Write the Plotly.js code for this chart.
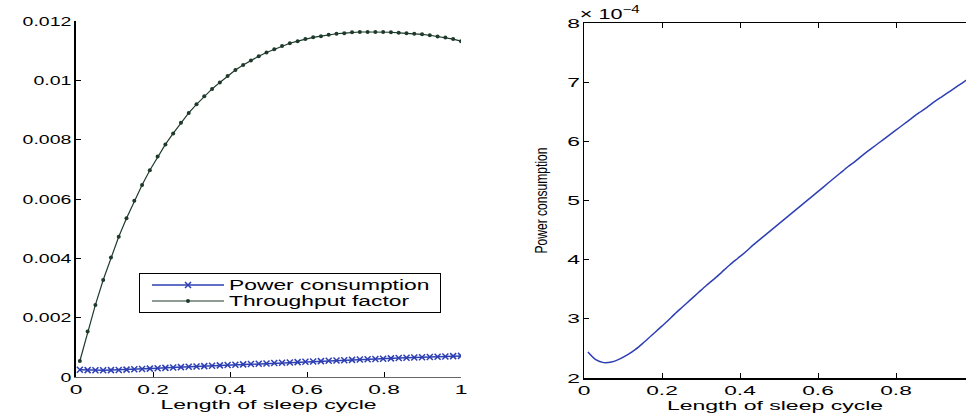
<!DOCTYPE html>
<html>
<head>
<meta charset="utf-8">
<script src="https://cdn.plot.ly/plotly-3.0.1.min.js"></script>
<style>
  html, body { margin: 0; padding: 0; background: #ffffff; }
  #chart { width: 966px; height: 413px; }
</style>
</head>
<body>
<div id="chart"></div>
<script>
// Length of sleep cycle (x samples)
const sleepCycle = [0.0100, 0.0302, 0.0504, 0.0706, 0.0908, 0.1110, 0.1312, 0.1514, 0.1716, 0.1918,
  0.2120, 0.2322, 0.2524, 0.2726, 0.2928, 0.3130, 0.3332, 0.3534, 0.3736, 0.3938,
  0.4140, 0.4342, 0.4544, 0.4746, 0.4948, 0.5150, 0.5352, 0.5554, 0.5756, 0.5958,
  0.6160, 0.6362, 0.6564, 0.6766, 0.6968, 0.7170, 0.7372, 0.7574, 0.7776, 0.7978,
  0.8180, 0.8382, 0.8584, 0.8786, 0.8988, 0.9190, 0.9392, 0.9594, 0.9796, 1.0000];

// Throughput factor
const throughput = [0.00054, 0.00153, 0.00243, 0.00327, 0.00403, 0.00473, 0.00535, 0.00594, 0.00647, 0.00697,
  0.00743, 0.00784, 0.00821, 0.00857, 0.00890, 0.00919, 0.00946, 0.00971, 0.00993, 0.01015,
  0.01035, 0.01052, 0.01067, 0.01081, 0.01094, 0.01105, 0.01116, 0.01125, 0.01132, 0.01139,
  0.01145, 0.01149, 0.01154, 0.01157, 0.01159, 0.01162, 0.01163, 0.01163, 0.01163, 0.01163,
  0.01162, 0.01160, 0.01159, 0.01157, 0.01155, 0.01152, 0.01148, 0.01144, 0.01139, 0.01132];

// Power consumption, in units of 1e-4
const powerE4 = [2.44, 2.31, 2.26, 2.27, 2.32, 2.39, 2.48, 2.59, 2.71, 2.83,
  2.95, 3.08, 3.20, 3.32, 3.44, 3.56, 3.67, 3.79, 3.91, 4.02,
  4.13, 4.25, 4.36, 4.47, 4.58, 4.69, 4.80, 4.91, 5.02, 5.13,
  5.24, 5.35, 5.46, 5.57, 5.67, 5.78, 5.88, 5.98, 6.08, 6.18,
  6.28, 6.38, 6.48, 6.57, 6.67, 6.76, 6.85, 6.94, 7.03, 7.12];

const leftYTicks = [0, 0.002, 0.004, 0.006, 0.008, 0.01, 0.012];
const leftYTickText = ['0', '0.002', '0.004', '0.006', '0.008', '0.01', '0.012'];
const xTicks = [0, 0.2, 0.4, 0.6, 0.8, 1];
const xTickText = ['0', '0.2', '0.4', '0.6', '0.8', '1'];
const rightYTicks = [2, 3, 4, 5, 6, 7, 8];

const powerAbs = powerE4.map(v => v * 1e-4);

const BLUE = '#2e3fb3';
const GREEN = '#1e3a2b';
const FONT = 'Liberation Sans, Arial, sans-serif';

const traces = [
  {
    x: sleepCycle, y: powerAbs, name: 'Power consumption',
    type: 'scatter', mode: 'lines+markers', xaxis: 'x', yaxis: 'y',
    line: {color: BLUE, width: 1.5},
    marker: {symbol: 'x-thin', size: 6, color: BLUE, line: {color: BLUE, width: 1.5}}
  },
  {
    x: sleepCycle, y: throughput, name: 'Throughput factor',
    type: 'scatter', mode: 'lines+markers', xaxis: 'x', yaxis: 'y',
    line: {color: GREEN, width: 1.2},
    marker: {symbol: 'circle', size: 4, color: GREEN}
  },
  {
    x: sleepCycle, y: powerE4, name: 'Power consumption',
    type: 'scatter', mode: 'lines', xaxis: 'x2', yaxis: 'y2',
    showlegend: false,
    line: {color: BLUE, width: 1.5, shape: 'spline', smoothing: 0.8}
  }
];

const axisCommon = {
  showgrid: false, zeroline: false, ticks: 'inside', ticklen: 5, tickwidth: 1,
  tickcolor: '#000', showline: true, linecolor: '#000',
  tickfont: {family: FONT, size: 13, color: '#000'}
};

const layout = {
  width: 966, height: 413,
  margin: {l: 0, r: 0, t: 0, b: 0},
  paper_bgcolor: '#ffffff', plot_bgcolor: '#ffffff',
  font: {family: FONT, color: '#000'},
  showlegend: true,
  legend: {
    x: 139 / 966, y: 1 - 273 / 413, xanchor: 'left', yanchor: 'top',
    bgcolor: '#ffffff', bordercolor: '#000', borderwidth: 1,
    font: {family: FONT, size: 14, color: '#000'},
    itemwidth: 72, tracegroupgap: 0
  },
  xaxis: Object.assign({}, axisCommon, {
    domain: [76 / 966, 461 / 966], range: [0, 1],
    tickvals: xTicks, ticktext: xTickText, linecolor: '#666', linewidth: 1,
    anchor: 'y',
    title: {text: 'Length of sleep cycle', font: {family: FONT, size: 13, color: '#000'}, standoff: 2}
  }),
  yaxis: Object.assign({}, axisCommon, {
    domain: [(413 - 377) / 413, (413 - 21) / 413], range: [0, 0.012],
    tickvals: leftYTicks, ticktext: leftYTickText, linewidth: 2,
    anchor: 'x'
  }),
  xaxis2: Object.assign({}, axisCommon, {
    domain: [584 / 966, 1], range: [0, 0.9795],
    tickvals: xTicks, ticktext: xTickText, linewidth: 1.5,
    mirror: 'ticks', anchor: 'y2',
    title: {text: 'Length of sleep cycle', font: {family: FONT, size: 13, color: '#000'}, standoff: 2}
  }),
  yaxis2: Object.assign({}, axisCommon, {
    domain: [(413 - 378) / 413, (413 - 23) / 413], range: [2, 8],
    tickvals: rightYTicks, linewidth: 1.5, anchor: 'x2',
    title: {text: 'Power consumption', font: {family: FONT, size: 17, color: '#000'}, standoff: 20}
  }),
  annotations: [
    {
      xref: 'paper', yref: 'paper', x: 587 / 966, y: 1 - 24 / 413,
      xanchor: 'left', yanchor: 'bottom', showarrow: false,
      text: '× 10<sup>−4</sup>', font: {family: FONT, size: 15, color: '#000'}
    }
  ]
};

function stretch(selector, factor, fixedLen) {
  document.querySelectorAll(selector).forEach(t => {
    const len = t.getComputedTextLength();
    if (!len) return;
    const target = fixedLen ? fixedLen : len * factor;
    t.setAttribute('textLength', target.toFixed(1));
    t.setAttribute('lengthAdjust', 'spacingAndGlyphs');
  });
}

function fixLegend() {
  const leg = document.querySelector('.legend');
  if (!leg) return;
  const W = 301, H = 39, ROW0 = 12, ROWSTEP = 16, SHIFT = 8;
  const bg = leg.querySelector('rect.bg');
  if (bg) {
    bg.setAttribute('width', W);
    bg.setAttribute('height', H);
  }
  const items = leg.querySelectorAll('.traces');
  items.forEach((g, k) => {
    g.setAttribute('transform', 'translate(' + SHIFT + ',' + (ROW0 + ROWSTEP * k) + ')');
  });
  const sb = leg.querySelector('.scrollbox');
  if (sb) {
    const cp = sb.getAttribute('clip-path');
    if (cp) {
      const m = cp.match(/#([^)'"]+)/);
      if (m) {
        const clip = document.getElementById(m[1]);
        const r = clip && clip.querySelector('rect');
        if (r) { r.setAttribute('width', W + 20); r.setAttribute('height', H + 10); }
      }
    }
  }
}

Plotly.newPlot('chart', traces, layout, {staticPlot: true, displayModeBar: false}).then(() => {
  stretch('.xtick text, .x2tick text', 1.75);
  stretch('.ytick text', 1.5);
  stretch('.y2tick text', 1.75);
  stretch('.g-xtitle text, .g-x2title text', 1.77);
  stretch('.legendtext', 1.63);
  stretch('.g-y2title text', 1, 106);
  stretch('.annotation-text', 1, 60);
  fixLegend();
});
</script>
</body>
</html>
